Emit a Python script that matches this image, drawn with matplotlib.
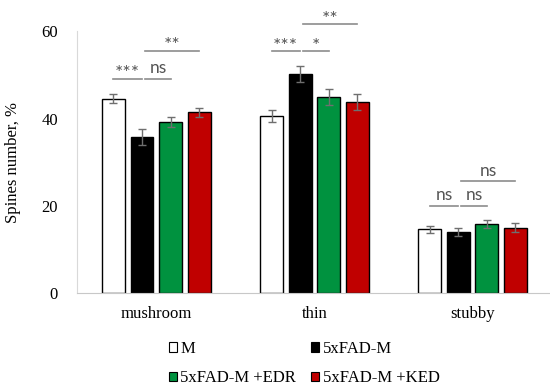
import numpy as np
import matplotlib.pyplot as plt
from matplotlib.patches import Patch

### Data ###

categories = ['mushroom', 'thin', 'stubby']
groups = ['M', '5xFAD-M', '5xFAD-M +EDR', '5xFAD-M +KED']
colors = ['white', 'black', '#00923f', '#c00000']

means = {
    'M':            [44.6, 40.6, 14.7],
    '5xFAD-M':      [35.8, 50.2, 14.1],
    '5xFAD-M +EDR': [39.2, 44.9, 15.9],
    '5xFAD-M +KED': [41.4, 43.8, 15.0],
}
errors = {
    'M':            [1.1, 1.4, 0.8],
    '5xFAD-M':      [1.8, 1.8, 0.9],
    '5xFAD-M +EDR': [1.15, 1.8, 0.85],
    '5xFAD-M +KED': [1.1, 1.8, 1.0],
}

# significance: (category index, bar i, bar j, line height, label)
comparisons = [
    (0, 0, 1, 49.1, '***'),
    (0, 1, 2, 49.1, 'ns'),
    (0, 1, 3, 55.5, '**'),
    (1, 0, 1, 55.4, '***'),
    (1, 1, 2, 55.4, '*'),
    (1, 1, 3, 61.6, '**'),
    (2, 0, 1, 20.0, 'ns'),
    (2, 1, 2, 20.0, 'ns'),
    (2, 1, 3, 25.7, 'ns'),
]

yticks = [0, 20, 40, 60]

### Plot ###

serif = 'Liberation Serif'
sans = 'Lato'

fig = plt.figure(figsize=(5.5, 3.91), dpi=100)
ax = fig.add_axes([0.1405, 0.25, 0.8595, 0.67])

x = np.arange(len(categories))
step = 0.181
width = 0.145
offsets = (np.arange(len(groups)) - 1.5) * step

for k, g in enumerate(groups):
    ax.bar(x + offsets[k], means[g], width, color=colors[k],
           edgecolor='black', linewidth=1.0, zorder=2)
    ax.errorbar(x + offsets[k], means[g], yerr=errors[g], fmt='none',
                ecolor='#6f6f6f', elinewidth=1.0, capsize=3, capthick=1.0, zorder=3)

for c, i, j, h, lab in comparisons:
    x0 = c + offsets[i] + (0.02 if i > 0 else 0)
    x1 = c + offsets[j]
    ax.plot([x0, x1], [h, h], color='#8c8c8c', lw=1.2, clip_on=False, zorder=4)
    if lab == 'ns':
        ax.text((x0 + x1) / 2, h + 2.4, lab, ha='center', va='center',
                fontsize=12.5, color='#555555', family=sans, clip_on=False)
    else:
        # asterisks sit high in the text box
        ax.text((x0 + x1) / 2, h + 1.2, lab, ha='center', va='center',
                fontsize=14, color='#555555', family=sans, clip_on=False)

ax.set_xlim(-0.5, 2.49)
ax.set_ylim(0, 60)
ax.set_yticks(yticks)
ax.set_xticks(x)
ax.set_xticklabels(categories)
ax.tick_params(axis='both', length=0, labelsize=12)
ax.tick_params(axis='y', pad=14)
ax.tick_params(axis='x', pad=9)
for lbl in ax.get_xticklabels() + ax.get_yticklabels():
    lbl.set_fontfamily(serif)

for s in ['top', 'right']:
    ax.spines[s].set_visible(False)
ax.spines['left'].set_color('#d9d9d9')
ax.spines['bottom'].set_color('#c8c8c8')

ax.set_ylabel('Spines number, %', fontsize=12, family=serif)
ax.yaxis.set_label_coords(-0.118, 0.5)

handles = [Patch(facecolor=colors[k], edgecolor='black', linewidth=0.8, label=g)
           for k, g in enumerate(groups)]
order = [0, 2, 1, 3]
fig.legend([handles[k] for k in order], [groups[k] for k in order],
           ncol=2, loc='center', bbox_to_anchor=(0.553, 0.07), frameon=False,
           prop={'family': serif, 'size': 12}, handlelength=0.5, handleheight=0.5,
           handletextpad=0.2, columnspacing=0.9, labelspacing=0.8)

fig.savefig('out.png', dpi=100)
